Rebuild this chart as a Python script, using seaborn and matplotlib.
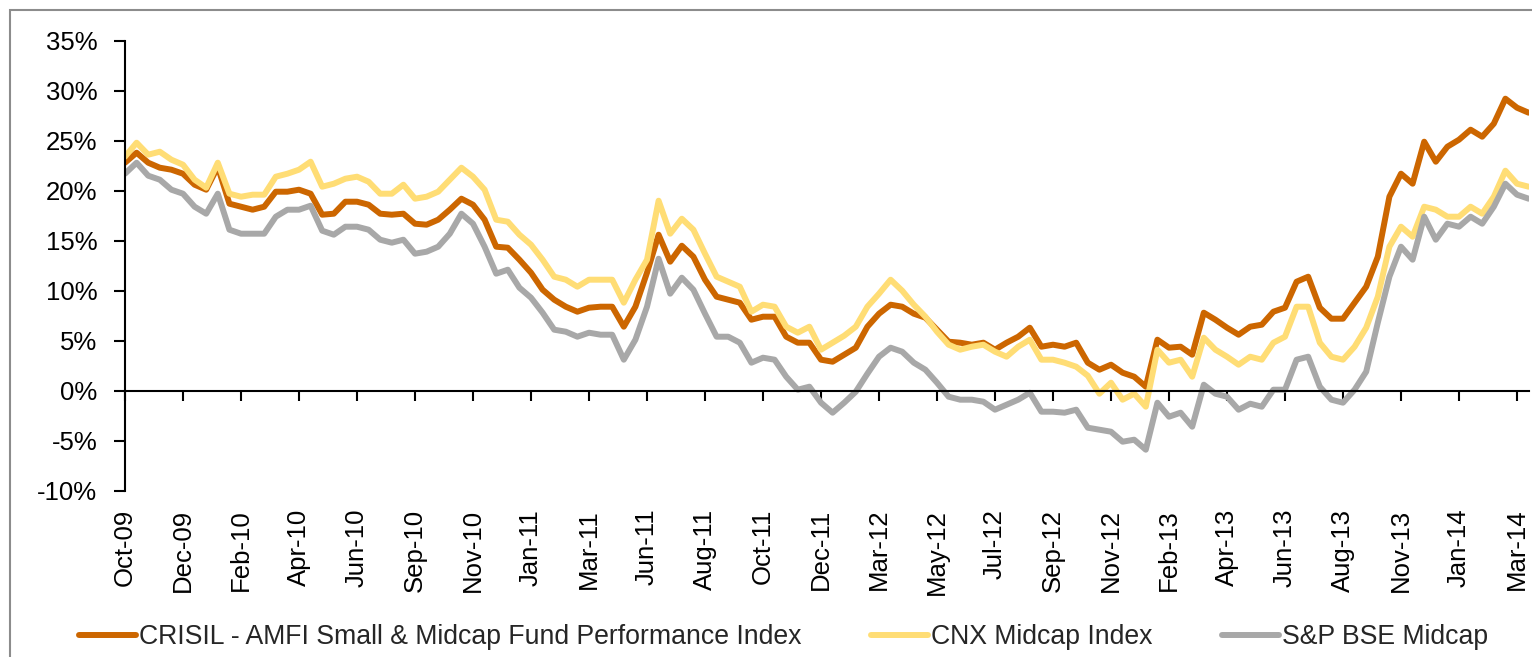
import numpy as np
import pandas as pd
import matplotlib
matplotlib.use("Agg")
import matplotlib.pyplot as plt
import seaborn as sns
from matplotlib.patches import Rectangle
from matplotlib.ticker import FuncFormatter

# ---------------- data ----------------
tick_labels = ["Oct-09", "Dec-09", "Feb-10", "Apr-10", "Jun-10", "Sep-10", "Nov-10",
               "Jan-11", "Mar-11", "Jun-11", "Aug-11", "Oct-11", "Dec-11", "Mar-12",
               "May-12", "Jul-12", "Sep-12", "Nov-12", "Feb-13", "Apr-13", "Jun-13",
               "Aug-13", "Nov-13", "Jan-14", "Mar-14"]

series_names = ["CRISIL - AMFI Small & Midcap Fund Performance Index",
                "CNX Midcap Index",
                "S&P BSE Midcap"]

crisil = [22.8, 23.8, 22.8, 22.3, 22.1, 21.7, 20.6, 20.1, 22.4, 18.7,
          18.4, 18.1, 18.4, 19.9, 19.9, 20.1, 19.7, 17.6, 17.7, 18.9,
          18.9, 18.6, 17.7, 17.6, 17.7, 16.7, 16.6, 17.1, 18.1, 19.2,
          18.6, 17.1, 14.4, 14.3, 13.1, 11.8, 10.1, 9.1, 8.4, 7.9,
          8.3, 8.4, 8.4, 6.4, 8.4, 11.8, 15.6, 12.9, 14.5, 13.4,
          11.1, 9.4, 9.1, 8.8, 7.1, 7.4, 7.4, 5.4, 4.8, 4.8,
          3.1, 2.9, 3.6, 4.3, 6.4, 7.7, 8.6, 8.4, 7.7, 7.3,
          6.1, 4.9, 4.8, 4.6, 4.8, 4.1, 4.8, 5.4, 6.3, 4.4,
          4.6, 4.4, 4.8, 2.8, 2.1, 2.6, 1.8, 1.4, 0.4, 5.1,
          4.3, 4.4, 3.6, 7.8, 7.1, 6.3, 5.6, 6.4, 6.6, 7.9,
          8.3, 10.9, 11.4, 8.3, 7.2, 7.2, 8.8, 10.4, 13.4, 19.4,
          21.7, 20.7, 24.9, 22.9, 24.4, 25.1, 26.1, 25.4, 26.7, 29.2,
          28.3, 27.8]

cnx = [23.4, 24.8, 23.6, 23.9, 23.1, 22.6, 21.1, 20.3, 22.8, 19.7,
       19.4, 19.6, 19.6, 21.4, 21.7, 22.1, 22.9, 20.4, 20.7, 21.2,
       21.4, 20.9, 19.7, 19.7, 20.6, 19.2, 19.4, 19.9, 21.1, 22.3,
       21.4, 20.1, 17.1, 16.9, 15.6, 14.6, 13.1, 11.4, 11.1, 10.4,
       11.1, 11.1, 11.1, 8.8, 11.1, 13.1, 19.0, 15.7, 17.2, 16.1,
       13.7, 11.4, 10.9, 10.4, 7.9, 8.6, 8.4, 6.4, 5.8, 6.4,
       4.1, 4.8, 5.5, 6.4, 8.4, 9.7, 11.1, 10.0, 8.6, 7.4,
       5.9, 4.6, 4.1, 4.4, 4.6, 3.9, 3.4, 4.4, 5.1, 3.1,
       3.1, 2.8, 2.4, 1.5, -0.3, 0.8, -0.9, -0.3, -1.6, 4.1,
       2.8, 3.1, 1.4, 5.3, 4.1, 3.4, 2.6, 3.4, 3.1, 4.8,
       5.4, 8.4, 8.4, 4.8, 3.4, 3.1, 4.4, 6.3, 9.4, 14.4,
       16.4, 15.4, 18.4, 18.1, 17.4, 17.4, 18.4, 17.7, 19.4, 22.0,
       20.7, 20.4]

bse = [21.7, 22.8, 21.5, 21.1, 20.1, 19.7, 18.4, 17.7, 19.7, 16.1,
       15.7, 15.7, 15.7, 17.4, 18.1, 18.1, 18.5, 16.0, 15.6, 16.4,
       16.4, 16.1, 15.1, 14.8, 15.1, 13.7, 13.9, 14.4, 15.7, 17.7,
       16.7, 14.4, 11.7, 12.1, 10.3, 9.3, 7.8, 6.1, 5.9, 5.4,
       5.8, 5.6, 5.6, 3.1, 5.1, 8.4, 13.2, 9.7, 11.3, 10.1,
       7.7, 5.4, 5.4, 4.8, 2.8, 3.3, 3.1, 1.4, 0.1, 0.4,
       -1.2, -2.2, -1.2, -0.1, 1.7, 3.4, 4.3, 3.9, 2.8, 2.1,
       0.8, -0.6, -0.9, -0.9, -1.1, -1.9, -1.4, -0.9, -0.2, -2.1,
       -2.1, -2.2, -1.9, -3.7, -3.9, -4.1, -5.1, -4.9, -5.9, -1.2,
       -2.6, -2.2, -3.6, 0.6, -0.3, -0.6, -1.9, -1.3, -1.6, 0.1,
       0.1, 3.1, 3.4, 0.4, -0.9, -1.2, 0.1, 1.9, 6.8, 11.4,
       14.4, 13.1, 17.4, 15.1, 16.7, 16.4, 17.4, 16.7, 18.4, 20.7,
       19.6, 19.2]

points_per_label = 5
colors = ["#CC6600", "#FFDD75", "#A8A8A8"]

# ---------------- style ----------------
sns.set_theme(style="white")
plt.rcParams["font.family"] = ["Liberation Sans", "DejaVu Sans"]
FS = 18.5
LEG_FS = 19.2
LW = 4.3

n = len(crisil)
df = pd.DataFrame({
    "idx": np.tile(np.arange(n), 3),
    "value": crisil + cnx + bse,
    "series": np.repeat(series_names, n),
})

W, H = 1532, 657
fig = plt.figure(figsize=(W / 100, H / 100), dpi=100)
ax = fig.add_axes([125 / W, (H - 490.7) / H, (1528.6 - 125) / W, 450 / H])

sns.lineplot(data=df, x="idx", y="value", hue="series", hue_order=series_names,
             palette=colors, linewidth=LW, estimator=None, sort=False,
             ax=ax, legend=True)
for line in ax.get_lines():
    line.set_solid_joinstyle("round")
    line.set_solid_capstyle("round")

handles, labels = ax.get_legend_handles_labels()
ax.get_legend().remove()

ax.set_xlim(0, n - 1)
ax.set_ylim(-10, 35)
ax.set_yticks(range(-10, 36, 5))
ax.yaxis.set_major_formatter(FuncFormatter(lambda v, p: f"{int(round(v))}%"))
ax.set_xlabel("")
ax.set_ylabel("")

for s in ["top", "right"]:
    ax.spines[s].set_visible(False)
ax.spines["left"].set_color("black")
ax.spines["left"].set_linewidth(1.5)
ax.spines["bottom"].set_position(("data", 0))
ax.spines["bottom"].set_color("black")
ax.spines["bottom"].set_linewidth(1.5)

tick_pos = [i * points_per_label for i in range(len(tick_labels))]
ax.set_xticks(tick_pos)
ax.tick_params(axis="y", left=True, direction="out", length=8, width=1.5,
               colors="black", labelsize=FS, pad=12)
ax.tick_params(axis="x", bottom=True, direction="out", length=7, width=1.5,
               colors="black", labelbottom=False)

sec = ax.secondary_xaxis("bottom")
sec.set_xticks(tick_pos, labels=tick_labels)
sec.tick_params(axis="x", length=0, pad=13, labelsize=FS, labelrotation=90,
                colors="black")
sec.spines["bottom"].set_visible(False)

leg = fig.legend(handles, labels, loc="center left",
                 bbox_to_anchor=(79 / W, 1 - 637 / H), ncol=3, frameon=False,
                 handlelength=2.15, handletextpad=0.1, columnspacing=2.6,
                 borderpad=0, borderaxespad=0, fontsize=LEG_FS)
for line in leg.get_lines():
    line.set_linewidth(LW)

fig.add_artist(Rectangle((10 / W, -0.5), 2.0, (1 - 10 / H) + 0.5,
                         transform=fig.transFigure, fill=False,
                         edgecolor="#8C8C8C", linewidth=1.5, clip_on=False))

fig.savefig("out.png", dpi=100)
